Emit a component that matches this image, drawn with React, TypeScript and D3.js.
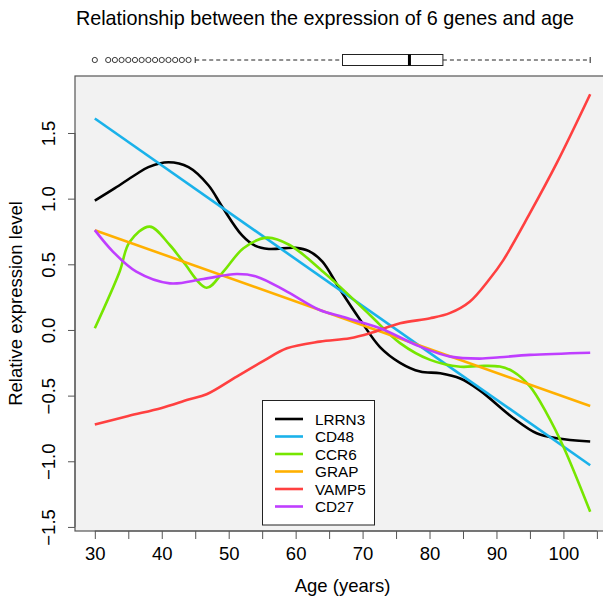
import React, { useRef, useEffect } from "react";
import * as d3 from "d3";

// ages (years), values (relative expression)
const geneNames = ["LRRN3", "CD48", "CCR6", "GRAP", "VAMP5", "CD27"];
const geneColors = ["#000000", "#1ab2ea", "#76e600", "#ffb000", "#ff4040", "#bf3eff"];

const lrrn3 = [
  [30, 0.985], [33, 1.08], [36, 1.18], [38, 1.24], [41, 1.277], [44, 1.24], [47, 1.1],
  [49, 0.94], [52, 0.72], [54, 0.64], [56, 0.617], [60, 0.625], [62, 0.6], [64, 0.52],
  [66.6, 0.31], [69.6, 0.08], [72.6, -0.13], [75.6, -0.25], [78.6, -0.317], [81.6, -0.33],
  [84.6, -0.37], [87.5, -0.46], [92.5, -0.67], [96, -0.787], [99, -0.825], [104, -0.85],
];
const cd48 = [[30, 1.61], [104, -1.03]];
const ccr6 = [
  [30, 0.013], [33.7, 0.444], [35.2, 0.67], [38.2, 0.787], [41.2, 0.647], [43.2, 0.52],
  [46.7, 0.322], [49.2, 0.444], [52.2, 0.622], [55.7, 0.703], [59.1, 0.647], [64.1, 0.444],
  [66.6, 0.33], [71.1, 0.114], [75.6, -0.1], [80.1, -0.228], [84.6, -0.28], [87.5, -0.274],
  [90.5, -0.279], [92.5, -0.317], [95, -0.43], [97.5, -0.635], [100, -0.889], [104, -1.384],
];
const grap = [[30, 0.76], [104, -0.579]];
const vamp5 = [
  [30, -0.72], [35, -0.655], [40, -0.594], [44, -0.53], [46.7, -0.49], [51.2, -0.355],
  [55.2, -0.236], [58.7, -0.14], [63.6, -0.089], [68.1, -0.063], [71.1, -0.025],
  [75.6, 0.051], [80.1, 0.089], [83.1, 0.13], [86, 0.215], [89, 0.39], [91, 0.53],
  [95, 0.889], [99, 1.27], [104, 1.795],
];
const cd27 = [
  [30, 0.76], [32.7, 0.597], [36.2, 0.444], [41.2, 0.355], [46.2, 0.388], [51.2, 0.426],
  [54.2, 0.406], [58.7, 0.292], [63.6, 0.152], [67, 0.1], [72.6, 0.013],
  [78.6, -0.127], [83.1, -0.203], [87.5, -0.218], [90.5, -0.208], [95, -0.19], [104, -0.173],
];
const geneSeries = [lrrn3, cd48, ccr6, grap, vamp5, cd27];

// sample ages for the top boxplot
const boxOutliers = [30, 32, 33, 34, 35, 36, 37, 38, 39, 40, 41, 42, 43, 44];
const boxStats = { lo: 45, q1: 67, med: 77, q3: 82, hi: 104 };

const xTicks = [30, 35, 40, 45, 50, 55, 60, 65, 70, 75, 80, 85, 90, 95, 100, 105];
const xLabels = [30, 40, 50, 60, 70, 80, 90, 100];
const yTicks = [-1.5, -1.0, -0.5, 0.0, 0.5, 1.0, 1.5];

const App = () => {
  const plot = useRef(null);
  const width = 603;
  const height = 597;
  const font = "'Liberation Sans', Arial, Helvetica, sans-serif";
  const axisColor = "#555";
  const labelSize = 18.5;

  useEffect(() => {
    const svg = d3.select(plot.current);
    svg.selectAll("*").remove();

    const xScale = d3.scaleLinear().domain([27.04, 106.96]).range([75, 610]);
    const yScale = d3.scaleLinear().domain([-1.531, 1.934]).range([531, 76]);

    svg.append("rect").attr("width", width).attr("height", height).attr("fill", "white");

    // title
    svg.append("text")
      .attr("x", 325).attr("y", 25)
      .attr("text-anchor", "middle")
      .attr("font-family", font).attr("font-size", 19.8)
      .text("Relationship between the expression of 6 genes and age");

    // boxplot of ages
    const by = 60;
    const box = svg.append("g");
    box.append("line")
      .attr("x1", xScale(boxStats.lo)).attr("x2", xScale(boxStats.q1))
      .attr("y1", by).attr("y2", by)
      .attr("stroke", "#222").attr("stroke-dasharray", "4,3");
    box.append("line")
      .attr("x1", xScale(boxStats.q3)).attr("x2", xScale(boxStats.hi))
      .attr("y1", by).attr("y2", by)
      .attr("stroke", "#222").attr("stroke-dasharray", "4,3");
    [boxStats.lo, boxStats.hi].forEach(v => {
      box.append("line")
        .attr("x1", xScale(v)).attr("x2", xScale(v))
        .attr("y1", by - 3).attr("y2", by + 3)
        .attr("stroke", "#222");
    });
    box.append("rect")
      .attr("x", xScale(boxStats.q1)).attr("y", by - 5.5)
      .attr("width", xScale(boxStats.q3) - xScale(boxStats.q1)).attr("height", 11)
      .attr("fill", "white").attr("stroke", "#222");
    box.append("line")
      .attr("x1", xScale(boxStats.med)).attr("x2", xScale(boxStats.med))
      .attr("y1", by - 5.5).attr("y2", by + 5.5)
      .attr("stroke", "#000").attr("stroke-width", 3);
    box.selectAll("circle")
      .data(boxOutliers)
      .join("circle")
      .attr("cx", d => xScale(d)).attr("cy", by).attr("r", 2.6)
      .attr("fill", "none").attr("stroke", "#222").attr("stroke-width", 0.9);

    // plot region
    svg.append("rect")
      .attr("x", 75).attr("y", 76)
      .attr("width", 535).attr("height", 455)
      .attr("fill", "#f2f2f2").attr("stroke", axisColor).attr("stroke-width", 1.2);

    const line = d3.line()
      .x(d => xScale(d[0]))
      .y(d => yScale(d[1]))
      .curve(d3.curveCatmullRom.alpha(0.5));

    svg.append("g")
      .selectAll("path")
      .data(geneSeries)
      .join("path")
      .attr("fill", "none")
      .attr("stroke", (d, i) => geneColors[i])
      .attr("stroke-width", 2.6)
      .attr("d", d => line(d));

    // x axis
    const xAxis = d3.axisBottom(xScale)
      .tickValues(xTicks)
      .tickSize(8)
      .tickPadding(8)
      .tickFormat(d => (xLabels.includes(d) ? String(d) : ""));
    svg.append("g")
      .attr("transform", "translate(0, 531)")
      .call(xAxis)
      .call(g => g.select(".domain").attr("stroke", axisColor).attr("d", `M${xScale(30)},0H${xScale(105)}`))
      .call(g => g.selectAll(".tick line").attr("stroke", axisColor))
      .call(g => g.selectAll("text").attr("font-family", font).attr("font-size", labelSize).attr("fill", "#000"));

    // y axis
    const yAxis = d3.axisLeft(yScale)
      .tickValues(yTicks)
      .tickSize(7)
      .tickFormat(d3.format(".1f"));
    svg.append("g")
      .attr("transform", "translate(75, 0)")
      .call(yAxis)
      .call(g => g.select(".domain").attr("stroke", axisColor).attr("d", `M0,${yScale(-1.5)}V${yScale(1.5)}`))
      .call(g => g.selectAll(".tick line").attr("stroke", axisColor))
      .call(g => g.selectAll("text")
        .attr("font-family", font).attr("font-size", labelSize).attr("fill", "#000")
        .attr("x", 0).attr("dy", 0).attr("text-anchor", "middle")
        .attr("transform", "translate(-20,0) rotate(-90)"));

    // axis titles
    svg.append("text")
      .attr("x", xScale(67)).attr("y", 592)
      .attr("text-anchor", "middle")
      .attr("font-family", font).attr("font-size", labelSize)
      .text("Age (years)");
    svg.append("text")
      .attr("transform", `translate(22, ${(76 + 531) / 2}) rotate(-90)`)
      .attr("text-anchor", "middle")
      .attr("font-family", font).attr("font-size", labelSize)
      .text("Relative expression level");

    // legend
    const leg = svg.append("g");
    leg.append("rect")
      .attr("x", 262.5).attr("y", 400.5).attr("width", 112).attr("height", 124.5)
      .attr("fill", "white").attr("stroke", "#222");
    geneNames.forEach((name, i) => {
      const ly = 419 + i * 17.5;
      leg.append("line")
        .attr("x1", 275).attr("x2", 303).attr("y1", ly).attr("y2", ly)
        .attr("stroke", geneColors[i]).attr("stroke-width", 2.6);
      leg.append("text")
        .attr("x", 315).attr("y", ly + 5.5)
        .attr("font-family", font).attr("font-size", 15.3)
        .text(name);
    });
  }, []);

  return (
    <svg
      ref={plot}
      width={width}
      height={height}
      style={{ position: "fixed", left: 0, top: 0 }}
    />
  );
};

export default App;
